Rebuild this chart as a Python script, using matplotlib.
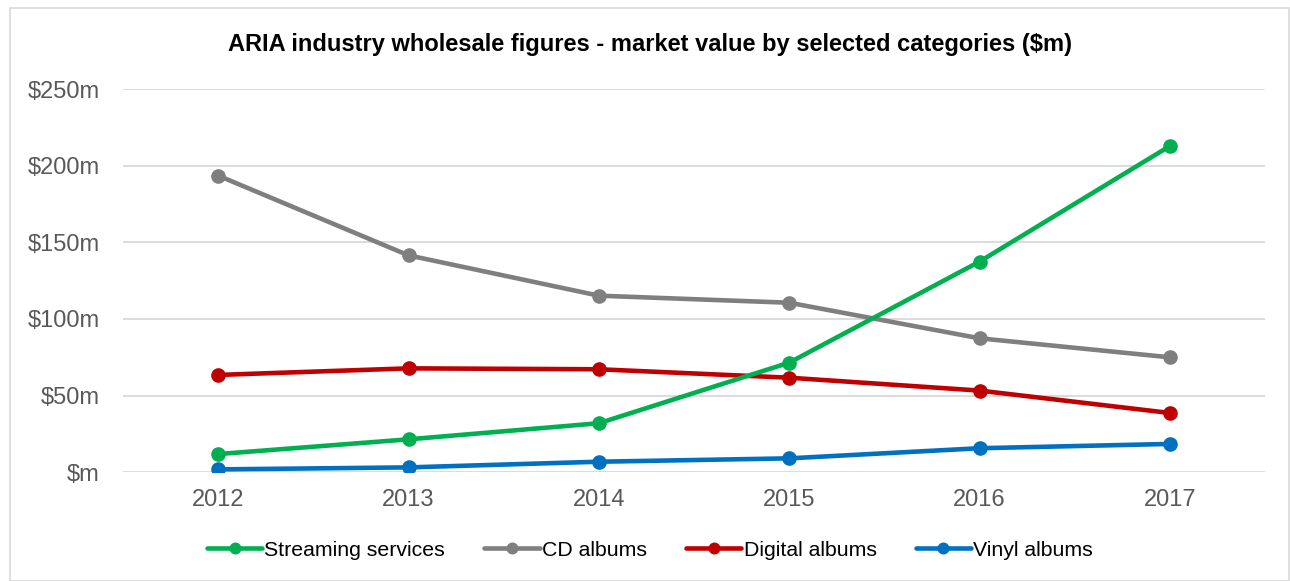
import matplotlib
matplotlib.use("Agg")
import matplotlib.pyplot as plt
from matplotlib.patches import Rectangle
from matplotlib.ticker import FuncFormatter

plt.rcParams['font.family'] = ['Liberation Sans', 'DejaVu Sans']

years = ["2012", "2013", "2014", "2015", "2016", "2017"]
streaming = [11.9, 21.5, 32.0, 71.5, 137.4, 212.8]
cd_albums = [193.5, 141.5, 115.2, 110.6, 87.4, 75.0]
digital_albums = [63.5, 67.8, 67.2, 61.7, 53.3, 38.7]
vinyl_albums = [1.9, 3.2, 6.9, 9.1, 15.7, 18.5]

series = [
    ("Streaming services", streaming, "#00B050"),
    ("CD albums", cd_albums, "#7F7F7F"),
    ("Digital albums", digital_albums, "#C00000"),
    ("Vinyl albums", vinyl_albums, "#0070C0"),
]
draw_order = ["CD albums", "Digital albums", "Streaming services", "Vinyl albums"]

fig = plt.figure(figsize=(12.9, 5.81), dpi=100)
fig.patches.append(Rectangle((10/1290, 0), 1279/1290, 1 - 8/581, transform=fig.transFigure,
                             fill=False, edgecolor="#D9D9D9", linewidth=1.2))
ax = fig.add_axes([123/1290, 1 - 472.3/581, (1265-123)/1290, (472.3-89)/581])

x = list(range(len(years)))
handles = {}
for name, vals, col in series:
    z = 3 + draw_order.index(name)
    h, = ax.plot(x, vals, color=col, linewidth=3.3, marker='o', markersize=9.5,
                 label=name, zorder=z, solid_capstyle='round')
    handles[name] = h

ax.set_xlim(-0.5, len(years) - 0.5)
ax.set_ylim(0, 250)
ax.set_yticks([0, 50, 100, 150, 200, 250])
ax.yaxis.set_major_formatter(FuncFormatter(lambda v, p: "$m" if v == 0 else f"${int(v)}m"))
ax.set_xticks(x)
ax.set_xticklabels(years)
ax.grid(axis='y', color="#D9D9D9", linewidth=1.3, zorder=0)
ax.set_axisbelow(True)
for s in ax.spines.values():
    s.set_visible(False)
ax.tick_params(axis='both', length=0, labelsize=17, labelcolor="#595959")
ax.tick_params(axis='y', pad=17)
ax.tick_params(axis='x', pad=12)

fig.text(0.5 + 5/1290, 1 - 45/581, "ARIA industry wholesale figures - market value by selected categories ($m)",
         ha='center', va='center', fontsize=17, fontweight='bold', color="#000000")

leg = fig.legend([handles[n] for n, _, _ in series], [n for n, _, _ in series],
                 loc='center', bbox_to_anchor=(0.5 + 5/1290, 1 - 550/581), ncol=4, frameon=False,
                 fontsize=15.3, handlelength=2.6, handletextpad=0.1, columnspacing=1.85,
                 markerscale=0.8)
for t in leg.get_texts():
    t.set_color("#000000")

fig.savefig("out.png", dpi=100, facecolor="white")
